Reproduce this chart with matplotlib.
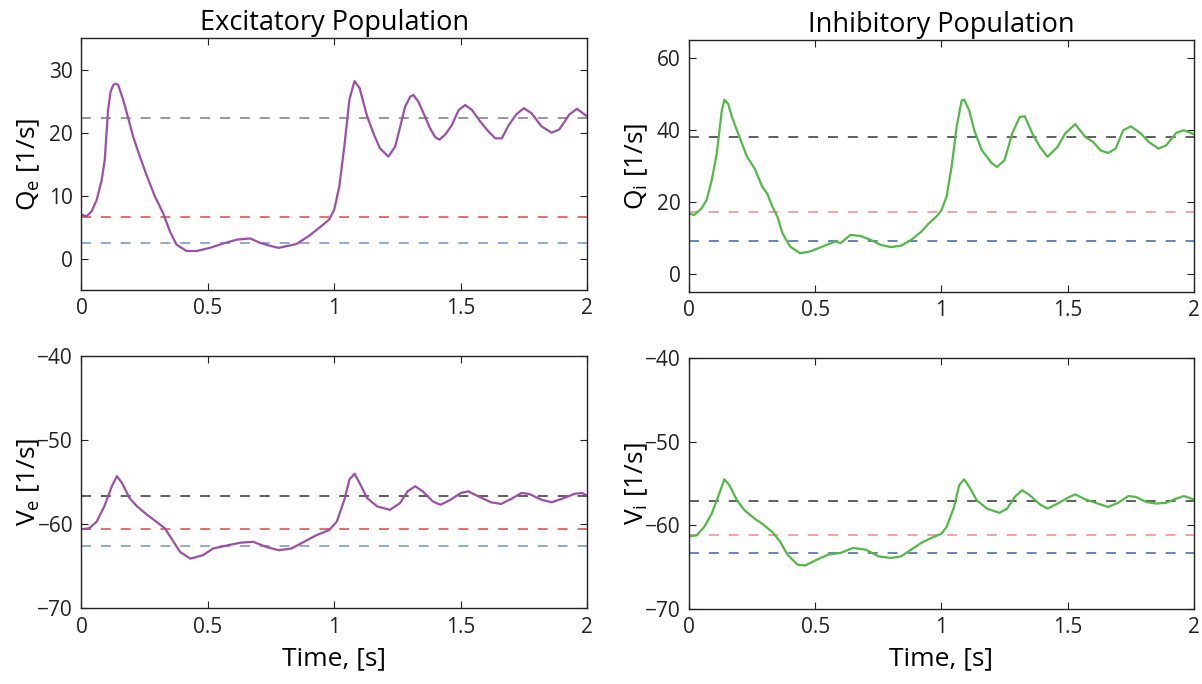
import matplotlib
matplotlib.use("Agg")
from matplotlib import pyplot as plt

plt.rcParams['font.family'] = ['Open Sans', 'DejaVu Sans']

# time samples (s)
t_qe = [0, 0.02, 0.04, 0.06, 0.08, 0.092, 0.105, 0.115, 0.126, 0.136, 0.145, 0.165, 0.185, 0.204,
        0.231, 0.257, 0.29, 0.323, 0.35, 0.376, 0.416, 0.455, 0.508, 0.561, 0.614, 0.667, 0.706,
        0.739, 0.78, 0.85, 0.90, 0.95, 0.98, 1.00, 1.02, 1.04, 1.06, 1.08, 1.10, 1.13, 1.16,
        1.181, 1.214, 1.241, 1.261, 1.28, 1.30, 1.313, 1.333, 1.353, 1.379, 1.399, 1.416, 1.439,
        1.465, 1.492, 1.518, 1.545, 1.577, 1.61, 1.637, 1.663, 1.69, 1.72, 1.75, 1.78, 1.82,
        1.86, 1.89, 1.93, 1.96, 2.00]
q_e = [7.0, 6.7, 7.5, 9.3, 12.5, 15.7, 23.6, 26.5, 27.6, 27.8, 27.6, 25.2, 22.3, 19.4,
       16.2, 13.3, 9.9, 7.2, 4.3, 2.2, 1.2, 1.2, 1.7, 2.4, 3.0, 3.2, 2.5,
       2.1, 1.7, 2.3, 3.6, 5.2, 6.2, 7.8, 11.5, 17.9, 25.3, 28.2, 27.1, 22.6, 19.4,
       17.5, 16.2, 17.8, 21.0, 24.1, 25.7, 26.0, 24.9, 23.1, 20.7, 19.3, 18.9, 19.7,
       21.2, 23.6, 24.4, 23.6, 21.8, 20.2, 19.1, 19.1, 21.2, 22.9, 23.9, 23.1, 21.0,
       20.0, 20.5, 22.9, 23.8, 22.6]

t_ve = [0, 0.03, 0.06, 0.09, 0.12, 0.14, 0.16, 0.19, 0.22, 0.26, 0.30, 0.33, 0.36, 0.39, 0.43,
        0.48, 0.52, 0.58, 0.63, 0.68, 0.73, 0.78, 0.83, 0.88, 0.93, 0.98, 1.01, 1.04, 1.06, 1.08,
        1.10, 1.13, 1.17, 1.22, 1.26, 1.29, 1.32, 1.35, 1.39, 1.42, 1.46, 1.50, 1.53, 1.57, 1.62,
        1.66, 1.70, 1.74, 1.77, 1.82, 1.86, 1.90, 1.95, 1.98, 2.00]
v_e = [-60.6, -60.5, -59.7, -57.9, -55.5, -54.3, -55.1, -56.9, -57.9, -58.9, -59.8, -60.5, -61.9, -63.3, -64.1,
       -63.7, -62.9, -62.5, -62.2, -62.1, -62.7, -63.1, -62.9, -62.1, -61.3, -60.7, -59.7, -57.1, -54.7, -54.0,
       -55.1, -56.9, -57.9, -58.3, -57.5, -56.1, -55.5, -56.1, -57.3, -57.7, -57.1, -56.3, -56.1, -56.7, -57.4,
       -57.6, -57.0, -56.3, -56.4, -57.1, -57.4, -57.0, -56.4, -56.3, -56.6]

t_qi = [0, 0.02, 0.05, 0.07, 0.09, 0.11, 0.13, 0.14, 0.155, 0.17, 0.20, 0.23, 0.26, 0.29, 0.31, 0.33,
        0.35, 0.37, 0.40, 0.44, 0.48, 0.53, 0.58, 0.60, 0.64, 0.68, 0.72, 0.76, 0.80, 0.84, 0.88,
        0.92, 0.95, 0.98, 1.00, 1.02, 1.04, 1.06, 1.08, 1.09, 1.11, 1.13, 1.16, 1.20, 1.22, 1.25,
        1.28, 1.31, 1.33, 1.36, 1.39, 1.42, 1.46, 1.49, 1.53, 1.57, 1.60, 1.63, 1.66, 1.69, 1.72,
        1.75, 1.79, 1.82, 1.86, 1.89, 1.93, 1.96, 2.00]
q_i = [16.8, 16.3, 18.2, 20.5, 26.0, 33.4, 45.4, 48.4, 47.3, 43.6, 38.0, 32.5, 29.3, 24.2, 22.3, 18.7,
       15.9, 11.3, 7.6, 5.7, 6.2, 7.6, 9.0, 8.5, 10.8, 10.5, 9.4, 8.0, 7.4, 7.8, 9.4,
       11.7, 14.0, 15.9, 17.7, 21.4, 29.7, 40.8, 48.2, 48.4, 45.4, 39.9, 34.3, 30.7, 29.7, 31.6,
       39.0, 43.6, 43.8, 39.0, 35.3, 32.5, 35.3, 39.0, 41.6, 38.0, 36.7, 34.3, 33.6, 34.8, 39.9,
       41.0, 39.0, 36.7, 34.8, 35.7, 39.2, 39.9, 38.8]

t_vi = [0, 0.03, 0.06, 0.09, 0.12, 0.14, 0.16, 0.19, 0.22, 0.26, 0.29, 0.33, 0.36, 0.39, 0.43,
        0.46, 0.50, 0.55, 0.60, 0.65, 0.70, 0.75, 0.80, 0.84, 0.88, 0.92, 0.96, 1.00, 1.02, 1.05,
        1.07, 1.09, 1.11, 1.14, 1.18, 1.23, 1.26, 1.29, 1.32, 1.35, 1.39, 1.42, 1.46, 1.50, 1.53,
        1.57, 1.62, 1.66, 1.70, 1.74, 1.77, 1.81, 1.85, 1.89, 1.93, 1.96, 2.00]
v_i = [-61.3, -61.2, -60.2, -58.6, -56.2, -54.5, -55.2, -57.0, -58.2, -59.2, -59.8, -60.8, -61.9, -63.5, -64.7,
       -64.8, -64.2, -63.5, -63.3, -62.7, -62.9, -63.7, -63.9, -63.7, -62.9, -62.1, -61.5, -61.0, -60.2, -57.8,
       -55.2, -54.5, -55.4, -57.0, -58.0, -58.5, -58.0, -56.6, -55.8, -56.4, -57.5, -58.0, -57.4, -56.7, -56.3,
       -56.9, -57.4, -57.8, -57.3, -56.5, -56.6, -57.2, -57.4, -57.3, -56.8, -56.5, -56.9]

# reference levels (top, middle, bottom dashed lines)
qe_levels = [22.3, 6.65, 2.43]
ve_levels = [-56.7, -60.6, -62.6]
qi_levels = [38.0, 17.1, 9.05]
vi_levels = [-57.1, -61.1, -63.3]

purple = '#9b4fa8'
green = '#52b947'

fig = plt.figure(figsize=(12.02, 6.84), dpi=100)
ax_qe = fig.add_axes([0.0678, 0.576, 0.4206, 0.368])
ax_qi = fig.add_axes([0.5732, 0.5735, 0.4201, 0.368])
ax_ve = fig.add_axes([0.0678, 0.1107, 0.4206, 0.369])
ax_vi = fig.add_axes([0.5732, 0.1096, 0.4201, 0.367])

panels = [
    (ax_qe, t_qe, q_e, purple, qe_levels, ['#7a7a7a', '#e8413c', '#6f93c8'], (-5, 35), [0, 10, 20, 30], r'Q$_\mathregular{e}$ [1/s]'),
    (ax_qi, t_qi, q_i, green, qi_levels, ['#333333', '#f08a8a', '#3a62b0'], (-5, 65), [0, 20, 40, 60], r'Q$_\mathregular{i}$ [1/s]'),
    (ax_ve, t_ve, v_e, purple, ve_levels, ['#333333', '#e8413c', '#6f93c8'], (-70, -40), [-70, -60, -50, -40], r'V$_\mathregular{e}$ [1/s]'),
    (ax_vi, t_vi, v_i, green, vi_levels, ['#333333', '#f08a8a', '#3a62b0'], (-70, -40), [-70, -60, -50, -40], r'V$_\mathregular{i}$ [1/s]'),
]

for ax, t, y, col, levels, lcols, ylim, yt, ylab in panels:
    for lv, lc in zip(levels, lcols):
        ax.axhline(lv, color=lc, lw=1.1, dashes=(6.5, 6.5))
    ax.plot(t, y, color=col, lw=1.6)
    ax.set_xlim(0, 2)
    ax.set_ylim(*ylim)
    ax.set_xticks([0, 0.5, 1, 1.5, 2])
    ax.set_xticklabels(['0', '0.5', '1', '1.5', '2'])
    ax.set_yticks(yt)
    ax.set_yticklabels([str(v).replace('-', '\u2212') for v in yt])
    ax.tick_params(direction='in', top=True, right=True, length=5, width=0.8,
                   labelsize=15, colors='#222222', pad=6)
    for s in ax.spines.values():
        s.set_linewidth(1.0)
        s.set_color('#222222')
    ax.set_ylabel(ylab, fontsize=19)
    ax.yaxis.set_label_coords(-0.078, 0.5)

ax_qe.set_title('Excitatory Population', fontsize=19.5, pad=6)
ax_qi.set_title('Inhibitory Population', fontsize=19.5, pad=6)
ax_ve.set_xlabel('Time, [s]', fontsize=19, labelpad=6)
ax_vi.set_xlabel('Time, [s]', fontsize=19, labelpad=6)

fig.savefig('out.png', dpi=100)
